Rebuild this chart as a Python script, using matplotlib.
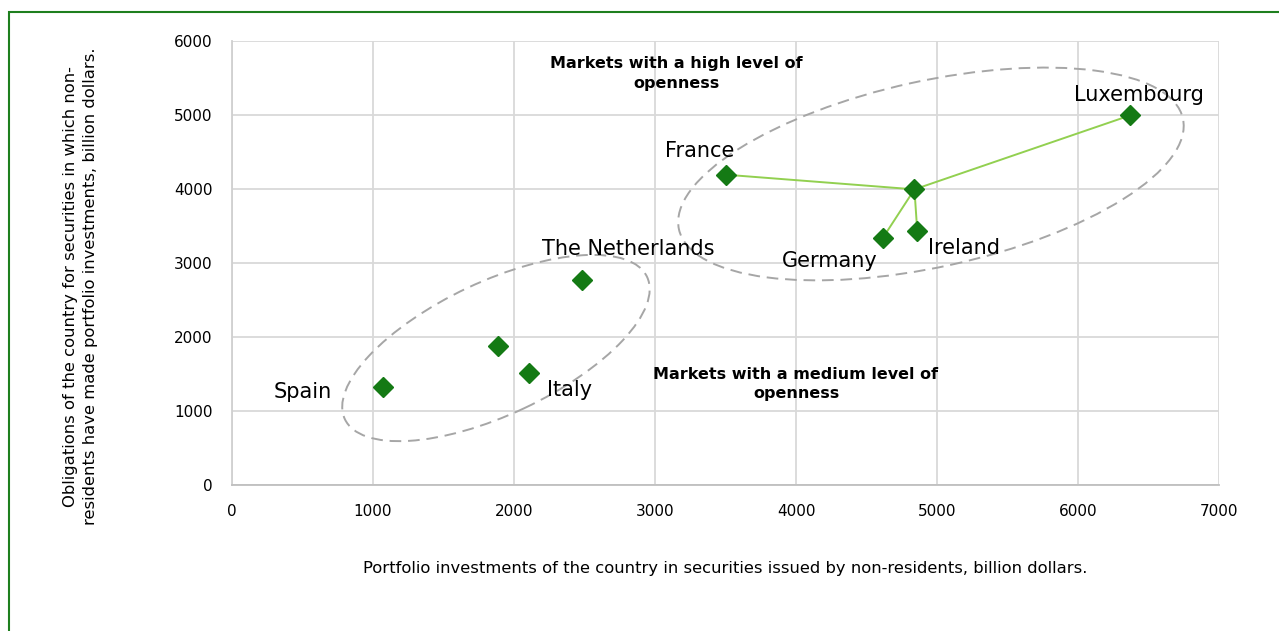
import numpy as np
import matplotlib
matplotlib.use("Agg")
import matplotlib.pyplot as plt
from matplotlib.patches import Ellipse, Rectangle
from matplotlib import transforms

# data (billion dollars)
countries = ["Spain", "", "Italy", "The Netherlands", "France", "", "Germany", "Ireland", "Luxembourg"]
invest_x = [1073, 1887, 2106, 2485, 3504, 4840, 4617, 4860, 6370]
oblig_y = [1330, 1878, 1510, 2770, 4193, 3995, 3342, 3430, 4995]

hub = 5  # the unlabeled point in the high-openness group the lines join
linked = [4, 8, 6, 7]  # France, Luxembourg, Germany, Ireland

# label offsets (points) from each marker
offsets = {
    "Spain": (-58, -4),
    "Italy": (29, -12),
    "The Netherlands": (33, 22),
    "France": (-19, 17),
    "Germany": (-38, -17),
    "Ireland": (34, -12),
    "Luxembourg": (6, 15),
}

plt.rcParams["font.family"] = ["DejaVu Sans"]

fig = plt.figure(figsize=(12.79, 6.31), dpi=100)
ax = fig.add_axes([232 / 1279, 146 / 631, 987 / 1279, 444 / 631])

ax.set_xlim(0, 7000)
ax.set_ylim(0, 6000)
ax.set_xticks(np.arange(0, 7001, 1000))
ax.set_yticks(np.arange(0, 6001, 1000))
ax.grid(True, color="#d9d9d9", linewidth=1.3)
ax.set_axisbelow(True)
for s in ["top", "right"]:
    ax.spines[s].set_visible(False)
ax.spines["left"].set_color("#d0d0d0")
ax.spines["bottom"].set_color("#bfbfbf")
ax.spines["left"].set_linewidth(1.3)
ax.spines["bottom"].set_linewidth(1.3)
ax.tick_params(length=0, labelsize=11, colors="#000000")
ax.tick_params(axis="x", pad=14)
ax.tick_params(axis="y", pad=14)

# connector lines from the hub point
for j in linked:
    ax.plot([invest_x[hub], invest_x[j]], [oblig_y[hub], oblig_y[j]],
            color="#92d050", linewidth=1.4, zorder=2)

ax.plot(invest_x, oblig_y, linestyle="none", marker="D", markersize=10,
        color="#147a14", zorder=3)

for name, x, y in zip(countries, invest_x, oblig_y):
    if name:
        ax.annotate(name, (x, y), xytext=offsets[name], textcoords="offset points",
                    ha="center", va="center", fontsize=15)

# group ellipses: centre in data, size in inches
groups = [
    ((4957, 4203), 5.16, 1.86, 12.4),
    ((1872, 1851), 3.34, 1.33, 25.2),
]
for (cx, cy), w, h, ang in groups:
    tr = fig.dpi_scale_trans + transforms.ScaledTranslation(cx, cy, ax.transData)
    ax.add_patch(Ellipse((0, 0), w, h, angle=ang, transform=tr, fill=False,
                         edgecolor="#a6a6a6", linewidth=1.4, linestyle=(0, (6, 3.5)),
                         zorder=2))

ax.text(3150, 5560, "Markets with a high level of\nopenness", ha="center", va="center",
        fontsize=11.5, fontweight="bold", linespacing=1.35)
ax.text(4000, 1370, "Markets with a medium level of\nopenness", ha="center", va="center",
        fontsize=11.5, fontweight="bold", linespacing=1.35)

ax.set_xlabel("Portfolio investments of the country in securities issued by non-residents, billion dollars.",
              fontsize=11.8, labelpad=30)
ax.set_ylabel("Obligations of the country for securities in which non-\nresidents have made portfolio investments, billion dollars.",
              fontsize=11.8, linespacing=1.4)
ax.yaxis.set_label_coords(-0.136, 0.448)

# chart frame
fig.patches.append(Rectangle((9 / 1279, -0.1), 1.2, (631 - 12) / 631 + 0.1,
                             transform=fig.transFigure, fill=False,
                             edgecolor="#1e7f1e", linewidth=1.5))

fig.savefig("out.png", dpi=100)
